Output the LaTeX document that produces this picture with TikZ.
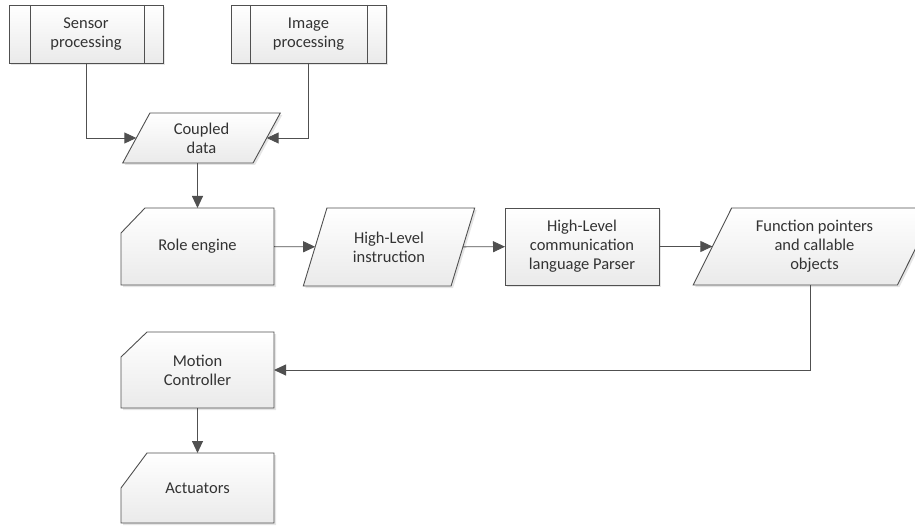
\documentclass[tikz,border=0pt]{standalone}
\usepackage{fontspec}
\setmainfont{Carlito}
\usetikzlibrary{shapes.geometric,arrows.meta,backgrounds,shadows}
\definecolor{edgec}{HTML}{505050}
\definecolor{fillc}{HTML}{EAEAEA}
\definecolor{txtc}{HTML}{333333}
\begin{document}
\begin{tikzpicture}[x=1pt,y=-1pt,
  base/.style={font=\fontsize{16.5}{19}\selectfont, text=txtc, align=center, inner sep=0pt, outer sep=0pt},
  shad/.style={drop shadow={shadow xshift=2pt, shadow yshift=-2pt, opacity=0.1, fill=black, draw=none}},
  paint/.style={top color=white, bottom color=fillc},
  boxed/.style={base, draw=edgec, line width=0.9pt, paint, shad},
  trap/.style={boxed, trapezium, trapezium stretches=true},
  outl/.style={draw=edgec, line width=0.9pt, paint, shad},
  inline/.style={draw=edgec, line width=0.9pt},
  conn/.style={draw=edgec, line width=0.9pt, -{Triangle[length=12pt,width=11pt]}}
]
\useasboundingbox (0,0) rectangle (915,529);
\clip (0,0) rectangle (915,529);

% predefined process boxes
\node[boxed, minimum width=154, minimum height=58] (sp) at (86,34) {Sensor\\processing};
\draw[inline] ([xshift=21pt]sp.north west) -- ([xshift=21pt]sp.south west);
\draw[inline] ([xshift=-19pt]sp.north east) -- ([xshift=-19pt]sp.south east);

\node[boxed, minimum width=155, minimum height=58] (ip) at (308.5,34) {Image\\processing};
\draw[inline] ([xshift=19pt]ip.north west) -- ([xshift=19pt]ip.south west);
\draw[inline] ([xshift=-19pt]ip.north east) -- ([xshift=-19pt]ip.south east);

% parallelograms
\node[trap, trapezium left angle=64.4, trapezium right angle=115.6,
      minimum width=159, minimum height=50] (cd) at (201.5,138) {Coupled\\data};
\node[trap, trapezium left angle=65.8, trapezium right angle=114.2,
      minimum width=172, minimum height=78] (hli) at (389,247) {High-Level\\instruction};
\node[trap, trapezium left angle=62.5, trapezium right angle=117.5,
      minimum width=243, minimum height=77] (fp) at (814.5,246.5) {Function pointers\\and callable\\objects};

% plain process
\node[boxed, minimum width=154, minimum height=77] (pa) at (582,246.5) {High-Level\\communication\\language Parser};

% chamfered boxes (manual input)
\node[base, minimum width=153, minimum height=77] (re) at (197.5,246.5) {Role engine};
\node[base, minimum width=153, minimum height=76] (mc) at (197.5,370) {Motion\\Controller};
\node[base, minimum width=153, minimum height=70] (ac) at (197.5,488) {Actuators};
\begin{scope}[on background layer]
\draw[outl] ([yshift=-25pt]re.north west) -- ([xshift=24pt]re.north west) -- (re.north east) -- (re.south east) -- (re.south west) -- cycle;
\draw[outl] ([yshift=-25pt]mc.north west) -- ([xshift=26pt]mc.north west) -- (mc.north east) -- (mc.south east) -- (mc.south west) -- cycle;
\draw[outl] ([yshift=-35pt]ac.north west) -- ([xshift=26pt]ac.north west) -- (ac.north east) -- (ac.south east) -- (ac.south west) -- cycle;
\end{scope}

% connectors
\draw[conn] (sp.south) |- (cd);
\draw[conn] (ip.south) |- (cd);
\draw[conn] (re.north |- cd.south) -- (re.north);
\draw[conn] (re) -- (hli);
\draw[conn] (hli) -- (pa);
\draw[conn] (pa) -- (fp);
\draw[conn] ([xshift=-4pt]fp.south) |- (mc.east);
\draw[conn] (mc.south) -- (ac.north);
\end{tikzpicture}
\end{document}
